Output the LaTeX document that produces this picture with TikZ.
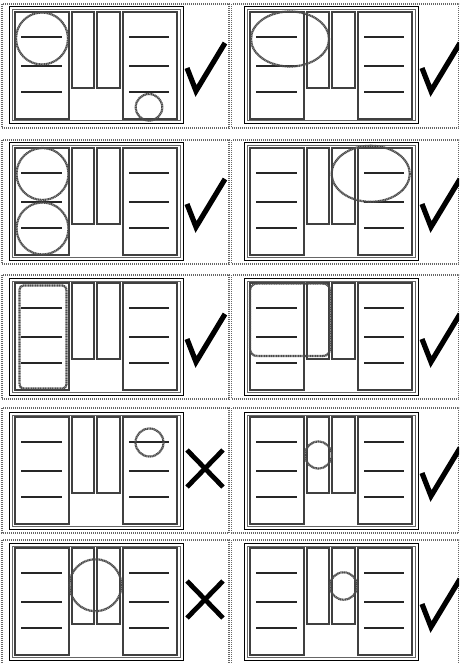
\documentclass[tikz,border=0pt]{standalone}
\usetikzlibrary{calc}
\tikzset{
  paneledge/.style={draw=black!60, line width=1.3pt, dash pattern=on 1pt off 1pt},
  frameout/.style={draw=black, line width=1pt},
  framein/.style={draw=black!60, line width=1pt},
  colbox/.style={draw=black!75, line width=1.1pt},
  rulel/.style={draw=black!85, line width=1.2pt},
  hilite/.style={draw=black!70, line width=2.2pt, dash pattern=on 1.2pt off 0.5pt},
  tickmark/.style={draw=black, line width=5.2pt, line join=miter, line cap=butt},
  crossmark/.style={draw=black, line width=4.8pt, line cap=butt},
  layout/.pic={
    \draw[frameout] (0,0) rectangle (174,117);
    \draw[framein] (3,3) rectangle (171,114);
    \draw[colbox] (6,5) rectangle (60,112);
    \draw[colbox] (63,5) rectangle (85,81);
    \draw[colbox] (88,5) rectangle (111,81);
    \draw[colbox] (114,5) rectangle (168,112);
    \foreach \yy in {30,59,85} {
      \draw[rulel] (12,\yy) -- (53,\yy);
      \draw[rulel] (120,\yy) -- (160,\yy);
    }
  },
  okpic/.pic={
    \draw[tickmark] (178,61) -- (187,84) -- (216,36);
  },
  nopic/.pic={
    \draw[crossmark] (178,38) -- (214,75);
    \draw[crossmark] (178,75) -- (214,38);
  }
}
\begin{document}
\begin{tikzpicture}[x=1pt,y=-1pt]
\useasboundingbox (0,0) rectangle (459,663);
\clip (0,0) rectangle (459,663);
\fill[white] (0,0) rectangle (459,663);

% dotted panel borders
\foreach \tp/\bt in {4/128, 140/264, 275/399, 408/533, 540/664} {
  \draw[paneledge] (2,\tp) rectangle (229,\bt);
  \draw[paneledge] (231.5,\tp) rectangle (458.5,\bt);
}

% row 1
\begin{scope}[shift={(9,7)}]
  \pic {layout}; \pic {okpic};
  \draw[hilite] (33,31.5) circle[radius=26];
  \draw[hilite] (140,100.3) circle[radius=13.3];
\end{scope}
\begin{scope}[shift={(244,7)}]
  \pic {layout}; \pic {okpic};
  \draw[hilite] (46,32) ellipse[x radius=39, y radius=27.5];
\end{scope}

% row 2
\begin{scope}[shift={(9,143)}]
  \pic {layout}; \pic {okpic};
  \draw[hilite] (33.5,31) circle[radius=26];
  \draw[hilite] (33.5,85.5) circle[radius=26];
\end{scope}
\begin{scope}[shift={(244,143)}]
  \pic {layout}; \pic {okpic};
  \draw[hilite] (126.7,30.8) ellipse[x radius=39, y radius=28];
\end{scope}

% row 3
\begin{scope}[shift={(9,278)}]
  \pic {layout}; \pic {okpic};
  \draw[hilite, rounded corners=4pt] (10.5,7.5) rectangle (57.5,110.5);
\end{scope}
\begin{scope}[shift={(244,278)}]
  \pic {layout}; \pic {okpic};
  \draw[hilite, rounded corners=7pt] (6,5.5) rectangle (86,78);
\end{scope}

% row 4
\begin{scope}[shift={(9,412)}]
  \pic {layout}; \pic {nopic};
  \draw[hilite] (140.5,30.5) circle[radius=14];
\end{scope}
\begin{scope}[shift={(244,412)}]
  \pic {layout}; \pic {okpic};
  \draw[hilite] (74.3,43) circle[radius=13.5];
\end{scope}

% row 5
\begin{scope}[shift={(9,543)}]
  \pic {layout}; \pic {nopic};
  \draw[hilite] (86.5,42.2) circle[radius=26];
\end{scope}
\begin{scope}[shift={(244,543)}]
  \pic {layout}; \pic {okpic};
  \draw[hilite] (99.5,43) circle[radius=13.7];
\end{scope}
\end{tikzpicture}
\end{document}
